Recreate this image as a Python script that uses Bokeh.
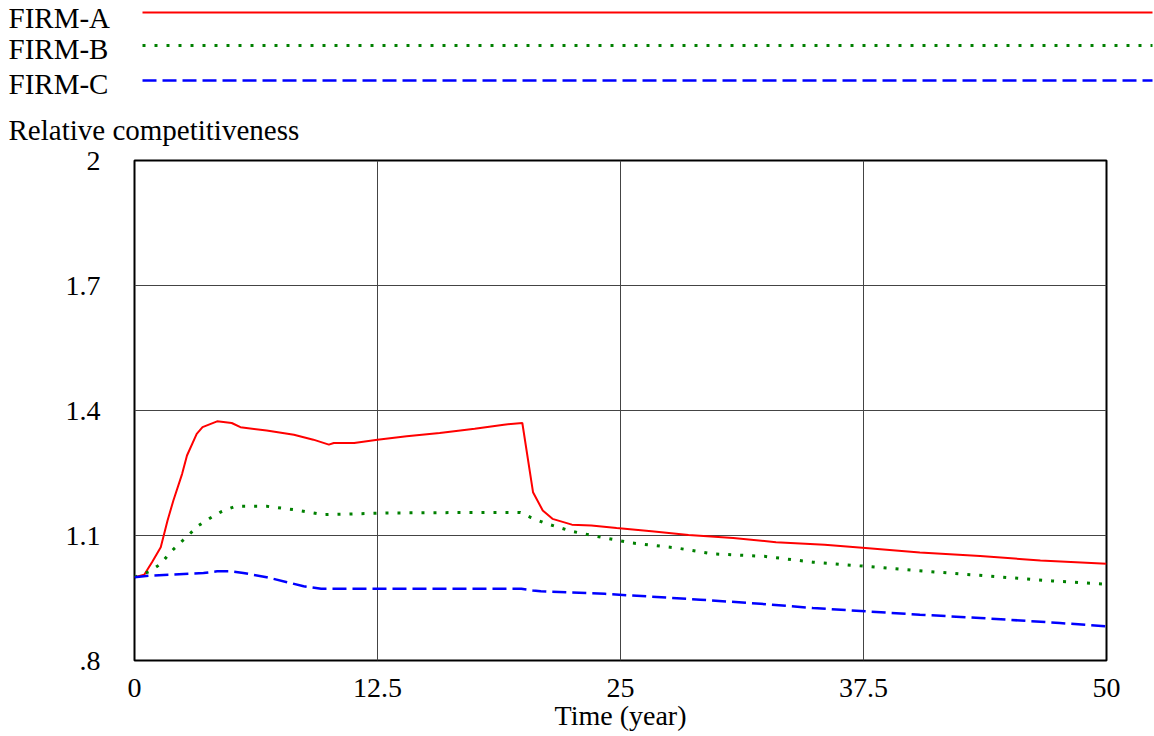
from bokeh.plotting import figure
from bokeh.layouts import column
from bokeh.models import Range1d, FixedTicker, Label
from bokeh.embed import file_html
from bokeh.resources import INLINE

# Simulation output: relative competitiveness of three firms over 50 years
time_a = [0, 0.5, 0.9, 1.35, 1.7, 2.0, 2.45, 2.7, 3.2, 3.5, 4.25, 5.0, 5.45, 6.8, 8.2,
          9.2, 10.0, 10.25, 11.3, 12.5, 14.0, 15.7, 17.5, 19.0, 19.95, 20.5, 21.0,
          21.5, 22.5, 23.5, 24.8, 26.6, 28.5, 30.8, 33.0, 35.5, 37.6, 40.4, 43.5, 46.6, 50]
firm_a = [1.0, 1.006, 1.036, 1.072, 1.136, 1.184, 1.248, 1.292, 1.344, 1.36, 1.374, 1.370,
          1.36, 1.352, 1.342, 1.330, 1.318, 1.322, 1.322, 1.330, 1.338, 1.346, 1.356,
          1.366, 1.370, 1.204, 1.16, 1.14, 1.126, 1.124, 1.118, 1.110, 1.101, 1.094,
          1.084, 1.078, 1.070, 1.059, 1.051, 1.040, 1.032]

time_b = [0, 0.8, 1.35, 1.85, 2.3, 2.8, 3.3, 3.9, 4.5, 5.2, 6.8, 8.2, 9.7, 11.3, 13.0,
          16.4, 19.85, 20.4, 21.1, 22.5, 24.2, 25.6, 27.9, 29.7, 32.4, 34.9, 37.6, 40.2,
          43.3, 47.2, 50]
firm_b = [1.0, 1.014, 1.032, 1.060, 1.080, 1.102, 1.124, 1.142, 1.158, 1.170, 1.170,
          1.162, 1.150, 1.152, 1.154, 1.155, 1.155, 1.143, 1.130, 1.110, 1.094, 1.082,
          1.070, 1.056, 1.050, 1.036, 1.026, 1.016, 1.005, 0.991, 0.983]

time_c = [0, 0.9, 3.55, 4.25, 4.95, 5.6, 6.8, 7.85, 8.7, 9.6, 12.5, 19.9, 20.5, 20.9,
          24.2, 25.6, 29.1, 32.2, 34.9, 37.6, 40.4, 43.5, 47.6, 50]
firm_c = [1.0, 1.004, 1.010, 1.014, 1.014, 1.010, 1.000, 0.988, 0.978, 0.972, 0.972,
          0.972, 0.968, 0.966, 0.960, 0.956, 0.946, 0.936, 0.926, 0.918, 0.910, 0.902,
          0.890, 0.882]

x_ticks = [0, 12.5, 25, 37.5, 50]
x_tick_labels = ["0", "12.5", "25", "37.5", "50"]
y_ticks = [0.8, 1.1, 1.4, 1.7, 2.0]
y_tick_labels = [".8", "1.1", "1.4", "1.7", "2"]

series_names = ["FIRM-A", "FIRM-B", "FIRM-C"]
y_title = "Relative competitiveness"
x_title = "Time (year)"

FONT = "Liberation Serif"
FS = "28px"

styles = [
    dict(line_color="#ff0000", line_width=2),
    dict(line_color="#008000", line_width=3, line_dash="3 9"),
    dict(line_color="#0000ff", line_width=2.5, line_dash="14 6"),
]

# ---- header: series key and the y-axis title (pixel-space canvas) ----
W = 1154
HEAD_H = 146
head = figure(width=W, height=HEAD_H, output_backend="svg", toolbar_location=None,
              x_range=Range1d(0, W), y_range=Range1d(HEAD_H, 0),
              x_axis_location=None, y_axis_location=None, min_border=0,
              frame_align=False)
head.grid.visible = False
head.outline_line_color = None

key_rows = [17, 48, 83]
key_line_rows = [12, 45, 80]
for name, ty, ly, st in zip(series_names, key_rows, key_line_rows, styles):
    head.add_layout(Label(x=8, y=ty, text=name, text_font=FONT, text_font_size="29px",
                          text_baseline="middle", text_align="left", text_color="black"))
    head.line(x=[142, 1152], y=[ly, ly], **st)
head.add_layout(Label(x=8, y=129, text=y_title, text_font=FONT, text_font_size="29px",
                      text_baseline="middle", text_align="left", text_color="black"))

# ---- main chart ----
p = figure(width=W, height=736 - HEAD_H, output_backend="svg", toolbar_location=None,
           x_range=Range1d(0, 50), y_range=Range1d(0.8, 2.0),
           min_border_left=134, min_border_right=48, min_border_top=160 - HEAD_H,
           min_border_bottom=76, frame_align=False)
p.outline_line_color = "black"
p.outline_line_width = 2

for xs, ys, st in zip([time_a, time_b, time_c], [firm_a, firm_b, firm_c], styles):
    p.line(xs, ys, **st)

p.xaxis.ticker = FixedTicker(ticks=x_ticks)
p.yaxis.ticker = FixedTicker(ticks=y_ticks)
p.xaxis.major_label_overrides = {t: l for t, l in zip(x_ticks, x_tick_labels)}
p.yaxis.major_label_overrides = {t: l for t, l in zip(y_ticks, y_tick_labels)}
for ax in (p.xaxis, p.yaxis):
    ax.axis_line_color = None
    ax.major_tick_line_color = None
    ax.minor_tick_line_color = None
    ax.major_label_text_font = FONT
    ax.major_label_text_font_size = FS
    ax.major_label_text_color = "black"
p.xaxis.major_label_standoff = 12
p.yaxis.major_label_standoff = 28
p.xaxis.axis_label = x_title
p.xaxis.axis_label_text_font = FONT
p.xaxis.axis_label_text_font_size = FS
p.xaxis.axis_label_text_font_style = "normal"
p.xaxis.axis_label_standoff = 0
p.xaxis.axis_label_text_color = "black"

p.xgrid.grid_line_color = "#444444"
p.ygrid.grid_line_color = "#444444"
p.xgrid.grid_line_width = 1
p.ygrid.grid_line_width = 1

layout = column(head, p, spacing=0)
open("out.html", "w").write(file_html(layout, INLINE))
